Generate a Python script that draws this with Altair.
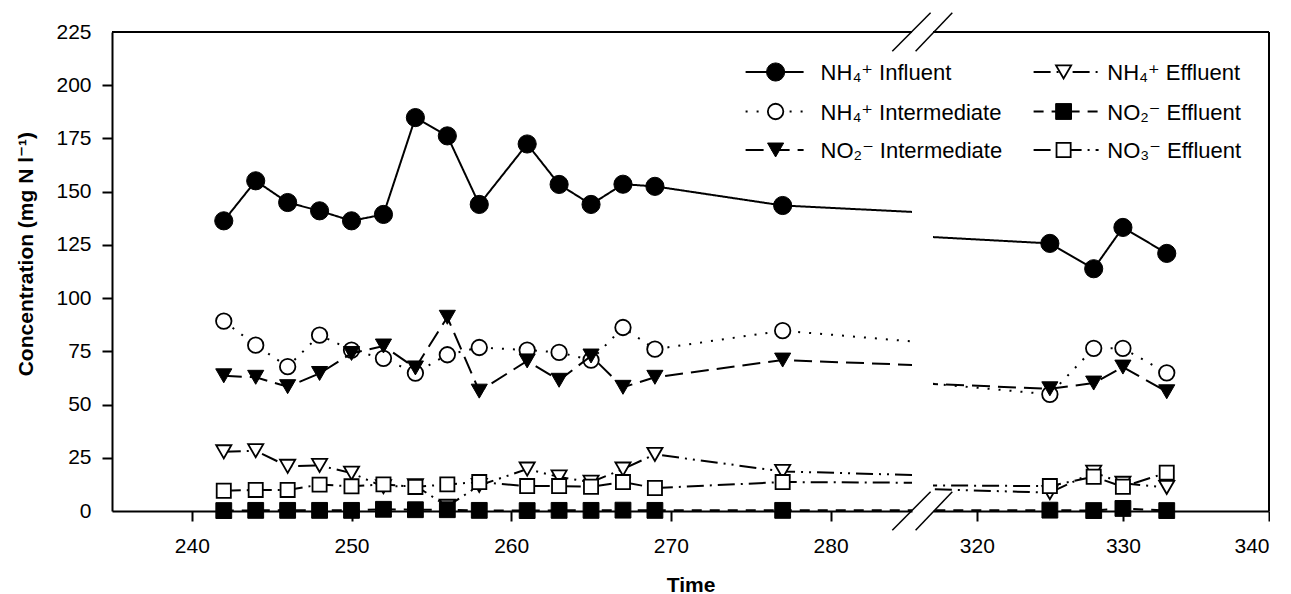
import altair as alt
import pandas as pd

# ---------------- data ----------------
days = [242, 244, 246, 248, 250, 252, 254, 256, 258, 261, 263, 265, 267, 269, 277,
        325, 328, 330, 333]

nh4_influent = [136.3, 155.1, 144.9, 141.0, 136.3, 139.3, 184.8, 176.2, 144.0, 172.4,
                153.4, 144.0, 153.5, 152.5, 143.5, 125.7, 113.8, 133.2, 121.0]
nh4_intermediate = [89.2, 77.9, 67.8, 82.6, 75.6, 71.7, 64.8, 73.4, 76.8, 75.6,
                    74.5, 70.9, 86.2, 76.0, 84.7, 54.8, 76.4, 76.4, 64.9]
no2_intermediate = [63.5, 62.8, 58.4, 64.6, 74.0, 77.5, 67.2, 91.0, 56.3, 70.5,
                    61.4, 72.8, 58.1, 62.8, 70.9, 57.4, 60.1, 67.6, 56.0]
nh4_effluent = [27.8, 28.3, 21.0, 21.4, 17.8, 11.4, 11.9, 2.2, 12.0, 19.7,
                16.0, 13.5, 19.7, 26.6, 18.6, 8.6, 18.2, 13.0, 11.1]
no2_effluent = [0.2, 0.3, 0.3, 0.3, 0.3, 0.8, 0.6, 0.6, 0.3, 0.2,
                0.3, 0.3, 0.4, 0.3, 0.3, 0.4, 0.2, 1.2, 0.2]
no3_effluent = [9.5, 9.9, 9.9, 12.4, 11.6, 12.5, 11.3, 12.5, 13.6, 11.7,
                11.7, 11.4, 13.6, 10.8, 13.6, 11.7, 16.1, 11.4, 18.0]

series = ["NH₄⁺ Influent", "NH₄⁺ Intermediate", "NO₂⁻ Intermediate",
          "NH₄⁺ Effluent", "NO₂⁻ Effluent", "NO₃⁻ Effluent"]
series_values = [nh4_influent, nh4_intermediate, no2_intermediate,
                 nh4_effluent, no2_effluent, no3_effluent]

left_ticks = [240, 250, 260, 270, 280]
right_ticks = [320, 330, 340]
y_ticks = [0, 25, 50, 75, 100, 125, 150, 175, 200, 225]

rows = []
for s, vals in zip(series, series_values):
    for d, v in zip(days, vals):
        rows.append({"day": d, "value": v, "series": s})
df = pd.DataFrame(rows)
one = pd.DataFrame({"k": [0]})

# ---------------- styling ----------------
FONT = "Liberation Sans, Arial, DejaVu Sans, sans-serif"
H = 479
LEFT_W, RIGHT_W, GAP = 800, 336, 21
LEFT_DOMAIN = [235, 285.1]
RIGHT_DOMAIN = [317, 340]

STYLE = [
    dict(shape="circle", fill="black", size=330, sw=1, dash=[1, 0]),
    dict(shape="circle", fill="white", size=240, sw=1.8, dash=[2, 9]),
    dict(shape="triangle-down", fill="black", size=260, sw=1, dash=[18, 8]),
    dict(shape="triangle-down", fill="white", size=230, sw=1.8, dash=[17, 6, 2, 6, 2, 6]),
    dict(shape="square", fill="black", size=250, sw=1, dash=[10, 8]),
    dict(shape="square", fill="white", size=200, sw=1.8, dash=[17, 6, 2, 6]),
]


def tick_axis(orient, values, **kw):
    base = dict(orient=orient, values=values, domain=True, domainColor="black",
                domainWidth=2, ticks=True, tickColor="black", tickWidth=2,
                tickSize=10, labelFont=FONT, labelFontSize=21, labelColor="black",
                grid=False, titleFont=FONT, titleFontSize=21,
                titleFontWeight="bold", titleColor="black")
    base.update(kw)
    return alt.Axis(**base)


def panel(domain, width, side):
    xs = alt.Scale(domain=domain, nice=False, zero=False)
    ys = alt.Scale(domain=[0, 225], nice=False, zero=False)
    if side == "left":
        x_axis = tick_axis("bottom", left_ticks, labelPadding=14, title="Time",
                           titleX=578.6, titleY=80, titleBaseline="alphabetic",
                           titleAlign="center")
        y_axis = tick_axis("left", y_ticks, labelPadding=11,
                           tickOpacity={"condition": {"test": "datum.value == 0 || datum.value == 225",
                                                      "value": 0}, "value": 1},
                           title="Concentration (mg N l⁻¹)", titleX=-80,
                           titleY=221.6, titleBaseline="alphabetic",
                           titleAngle=270, titleAlign="center")
    else:
        x_axis = tick_axis("bottom", right_ticks, labelPadding=14, title="")
        y_axis = None

    layers = []
    for i, s in enumerate(series):
        st = STYLE[i]
        base = alt.Chart(df).transform_filter(alt.datum.series == s)
        enc = dict(x=alt.X("day:Q", scale=xs, axis=x_axis),
                   y=alt.Y("value:Q", scale=ys, axis=y_axis))
        # lines are clipped at the axis break; markers are only drawn inside the panel's range
        line = base.mark_line(clip=True, color="black", strokeWidth=2,
                              strokeDash=st["dash"]).encode(order="day:Q", **enc)
        pts = base.transform_filter(
            alt.FieldRangePredicate(field="day", range=domain)
        ).mark_point(shape=st["shape"], size=st["size"],
                     fill=st["fill"], stroke="black", strokeWidth=st["sw"],
                     opacity=1, fillOpacity=1, strokeOpacity=1).encode(**enc)
        layers += [line, pts]

    # box lines that are not axes (top edge, right edge of the right panel)
    layers.append(alt.Chart(one).mark_rule(color="black", strokeWidth=2).encode(
        x=alt.value(0), x2=alt.value(width), y=alt.value(0)))
    if side == "right":
        layers.append(alt.Chart(one).mark_rule(color="black", strokeWidth=2).encode(
            x=alt.value(width), y=alt.value(0), y2=alt.value(H)))

    if side == "left":
        # axis-break marks (pixel positions relative to the left plot area)
        for xa_, xb_ in [(780.3, 818.6), (803.6, 840.3)]:
            for yc in (0, H):
                layers.append(alt.Chart(one).mark_rule(color="black", strokeWidth=1.5).encode(
                    x=alt.value(xa_), x2=alt.value(xb_),
                    y=alt.value(yc + 19.2), y2=alt.value(yc - 19.2)))
        # custom two-column legend
        leg_y = [40, 79.5, 118]
        leg_x = [(633.6, 691.6, 663.6, 708.6), (921.6, 986.6, 951.6, 995.3)]
        for i, s in enumerate(series):
            st = STYLE[i]
            col, row = divmod(i, 3)
            x0, x1, xm, xt = leg_x[col]
            y = leg_y[row]
            layers.append(alt.Chart(one).mark_rule(color="black", strokeWidth=2,
                                                   strokeDash=st["dash"]).encode(
                x=alt.value(x0), x2=alt.value(x1), y=alt.value(y)))
            layers.append(alt.Chart(one).mark_point(shape=st["shape"], size=st["size"],
                                                    fill=st["fill"], stroke="black",
                                                    strokeWidth=st["sw"], opacity=1,
                                                    fillOpacity=1, strokeOpacity=1).encode(
                x=alt.value(xm), y=alt.value(y)))
            layers.append(alt.Chart(one).mark_text(text=s, align="left",
                                                   baseline="alphabetic", font=FONT,
                                                   fontSize=22, color="black").encode(
                x=alt.value(xt), y=alt.value(y + 8)))

    return alt.layer(*layers).properties(width=width, height=H)


left = panel(LEFT_DOMAIN, LEFT_W, "left")
right = panel(RIGHT_DOMAIN, RIGHT_W, "right")

chart = alt.hconcat(left, right, spacing=GAP, bounds="flush").configure_view(
    stroke=None
).properties(
    padding={"left": 6, "top": 4, "right": 0, "bottom": 0},
    background="white",
)

chart.save("out.html", embed_options={"renderer": "svg", "actions": False})
